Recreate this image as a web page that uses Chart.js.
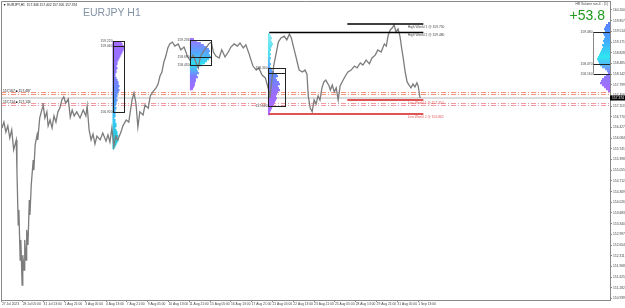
<!DOCTYPE html>
<html><head><meta charset="utf-8">
<script src="https://cdn.jsdelivr.net/npm/chart.js@4/dist/chart.umd.min.js"></script>
<style>html,body{margin:0;padding:0;background:#fff;overflow:hidden}#wrap{width:625px;height:308px}</style>
</head><body><div id="wrap"><canvas id="c" width="625" height="308"></canvas></div>
<script>
// ---- data (hours since first bar, H1 closes) ----
const hours = [0,3,6,9,12,15,18,22,23,25,26,28,29,31,32,34,35,37,38,40,42,43,45,48,49,51,54,55,58,62,63,66,69,71,74,77,80,83,86,89,92,95,98,102,105,108,111,115,120,125,129,131,134,137,140,143,146,151,155,160,163,166,169,172,175,178,183,186,191,195,200,203,206,209,212,217,220,225,228,232,237,240,243,246,249,252,255,258,262,266,271,275,280,285,289,294,298,302,305,309,314,318,322,325,329,334,338,343,348,352,357,362,366,371,375,380,383,386,391,395,400,405,408,411,412,415,418,422,425,429,434,438,442,445,448,451,454,457,462,466,469,471,474,477,480,483,486,489,492,495,498,503,505,508,511,514,517,520,523,528,532,537,542,546,551,555,560,565,569,574,578,583,588,591,594,597,600,603,606,609,612,615,617,620,623,626,629,632,635,638,640,643];
const closes = [156.41,156.60,156.28,156.48,156.09,156.35,155.71,156.03,155.06,153.30,153.78,152.17,152.82,151.37,152.33,151.85,152.82,152.17,153.14,152.66,154.10,153.62,154.58,155.38,155.06,155.87,156.19,156.03,156.73,157.05,157.21,156.73,156.93,156.48,156.67,156.41,156.80,156.60,156.93,157.05,157.31,157.41,157.21,157.34,156.76,156.99,156.80,156.93,156.73,156.99,156.80,157.12,156.35,156.03,156.22,155.90,156.15,156.03,156.25,155.99,156.19,155.96,156.41,155.83,156.15,156.03,156.28,156.48,156.67,156.60,157.31,157.53,157.21,156.44,156.93,156.83,157.15,157.05,157.44,157.57,157.70,157.82,158.08,158.21,158.53,158.72,158.98,159.11,159.17,159.04,159.11,158.92,159.01,158.72,158.59,158.75,158.53,158.34,158.69,158.85,158.98,159.11,159.17,158.85,158.72,158.66,158.92,158.69,158.85,159.01,159.11,159.04,159.14,158.98,159.08,158.79,158.59,158.40,158.27,158.34,158.11,158.02,157.79,157.57,157.37,157.95,158.43,158.85,159.17,159.30,159.36,159.24,159.43,159.30,159.04,158.79,158.53,158.27,158.21,158.27,158.14,157.44,157.05,156.93,157.31,157.18,157.44,157.31,157.70,157.89,157.95,157.76,157.63,157.79,157.57,157.70,157.31,157.76,157.89,158.08,158.21,158.27,158.40,158.34,158.50,158.43,158.59,158.47,158.66,158.75,158.92,158.85,159.11,159.04,159.40,159.56,159.62,159.72,159.49,159.59,159.36,158.92,158.66,158.21,157.89,157.79,157.70,157.82,157.73,157.86,157.76,157.374];

const xTickHours = [0,32,64,96,128,160,192,224,256,288,320,352,384,416,448,480,512,544,576,608,640];
const xTickLabels = ["27 Jul 2023","28 Jul 05:00","31 Jul 13:00","1 Aug 21:00","3 Aug 05:00","4 Aug 13:00","7 Aug 21:00","9 Aug 05:00","10 Aug 13:00","11 Aug 21:00","15 Aug 05:00","16 Aug 13:00","17 Aug 21:00","21 Aug 05:00","22 Aug 13:00","23 Aug 21:00","25 Aug 05:00","28 Aug 13:00","29 Aug 21:00","31 Aug 05:00","1 Sep 13:00"];
const yTickValues = [160.200,159.857,159.514,159.171,158.828,158.485,158.142,157.799,157.456,157.113,156.770,156.427,156.084,155.741,155.398,155.055,154.712,154.369,154.026,153.683,153.340,152.997,152.654,152.311,151.968,151.625,151.282,150.939];

const currentPrice = 157.374;
const headerText = "EURJPY,H1  157.346 157.402 157.305 157.374";

// weekly high / low levels
const weeklyNames = ["High Weekl 1","High Weekl 2","Low Weekl 1","Low Weekl 2"];
const weeklyPrices = [159.750,159.480,157.310,156.862];
const weeklyStart = [531,411,531,411];
const weeklyEnd = [648,648,648,648];

// dash-dot levels
const dashLevels = [157.567,157.487,157.214,157.134];
const dashLabelTexts = ["157.567 ■ 157.487","157.214 ■ 157.134"];

// volume profiles
const profileTops = [159.204,159.300,159.460,159.814];
const profileStep = 0.0642;
const profileStartHour = [170,289,409,935];
const profileA = [9,10,11,12,11,10,9,8,7,6,5,5,4,5,4,4,3,3,4,5,6,6,7,6,7,6,5,5,4,5,4,4,3,4,3,3,3,3,2,3,3,4,4,3,4,5,5,6,5,6,5,4,3,2];
const profileB = [4,7,11,14,17,19,20,19,20,21,19,17,15,12,9,7,8,9,7,8,6,6,5,5,4,3];
const profileC = [2,3,4,3,4,5,4,3,3,2,3,2,3,2,2,3,2,3,4,6,9,10,8,9,11,12,10,11,12,10,9,8,9,8,7,6,5,4,3,2,2];
const profileD = [2,4,5,6,5,7,6,5,6,7,6,8,7,8,9,10,11,12,13,12,11,10,8,5,3,2,4,6,8,9,10,8,6,4,2];

// profile boxes: [startHour, endHour], [topPrice, bottomPrice]
const boxHours = [[170,188],[289,322],[409,435]];
const boxPrices = [[159.204,156.925],[159.236,158.430],[158.340,157.120]];
const boxInnerLines = [[159.044],[158.690],[158.180]];
const boxLabels = [["159.220","159.060","156.920"],["159.236","158.690","158.430"],["158.340","157.120"]];
const boxLabelPrices = [[159.204,159.044,156.925],[159.236,158.690,158.430],[158.340,157.120]];
const rightProfileLevels = [159.480,158.470,158.160];
const rightProfileLabels = ["159.480","158.470","158.160"];

const pnlText = "+53.8";

// ---- styles ----
const profileColors = [
  ['#a36bff','#8a74ff','#5d8fff','#35c8f2','#1fc9d2'],
  ['#9a78ff','#5aa2ff','#2ee0f0','#7f7aff','#a46cff'],
  ['#86eaf6','#52dff0','#5d8cff','#9a6cff','#a86cff'],
  ['#5a7dff','#45a8ff','#2ee6f0','#8d7bff','#a46cff']
];
const FONT = 'Liberation Sans';
const TINY = 3.3;
function lerpColor(stops, t){
  const n = stops.length-1; const i = Math.min(n-1, Math.floor(t*n)); const f = t*n - i;
  const a = stops[i], b = stops[i+1];
  const pa=[1,3,5].map(k=>parseInt(a.substr(k,2),16)), pb=[1,3,5].map(k=>parseInt(b.substr(k,2),16));
  return 'rgb('+pa.map((v,k)=>Math.round(v+(pb[k]-v)*f)).join(',')+')';
}

const overlay = {
  id:'overlay',
  beforeDatasetsDraw(chart){
    const ctx=chart.ctx, xs=chart.scales.x, ys=chart.scales.y, ca=chart.chartArea;
    ctx.save();
    ctx.beginPath(); ctx.rect(ca.left,ca.top,ca.right-ca.left,ca.bottom-ca.top); ctx.clip();
    const yc = ys.getPixelForValue(currentPrice);
    ctx.strokeStyle='#dcdcdc'; ctx.lineWidth=2;
    ctx.beginPath(); ctx.moveTo(ca.left,yc); ctx.lineTo(ca.right,yc); ctx.stroke();
    ctx.lineWidth=1; ctx.setLineDash([5,2,1,2]);
    dashLevels.forEach((p,i)=>{
      ctx.strokeStyle = i<2 ? '#f2967f' : '#f39aa0';
      const yy = Math.round(ys.getPixelForValue(p))+0.5;
      ctx.beginPath(); ctx.moveTo(ca.left,yy); ctx.lineTo(ca.right,yy); ctx.stroke();
    });
    ctx.setLineDash([]);
    const profiles=[profileA,profileB,profileC,profileD];
    profiles.forEach((vols,pi)=>{
      const dir = pi===3 ? -1 : 1;
      const x0 = xs.getPixelForValue(profileStartHour[pi]);
      vols.forEach((v,j)=>{
        const pTop = profileTops[pi]-j*profileStep;
        const y1 = ys.getPixelForValue(pTop), y2 = ys.getPixelForValue(pTop-profileStep);
        const x1 = xs.getPixelForValue(profileStartHour[pi]+dir*v*1.54);
        ctx.fillStyle = lerpColor(profileColors[pi], j/(vols.length-1));
        ctx.fillRect(Math.min(x0,x1), y1, Math.abs(x1-x0), y2-y1+0.3);
      });
    });
    ctx.restore();
  },
  afterDatasetsDraw(chart){
    const ctx=chart.ctx, xs=chart.scales.x, ys=chart.scales.y;
    ctx.save();
    ctx.strokeStyle='#222'; ctx.lineWidth=1;
    boxHours.forEach((bh,i)=>{
      const xa=Math.round(xs.getPixelForValue(bh[0]))+0.5, xb=Math.round(xs.getPixelForValue(bh[1]))+0.5;
      const ya=Math.round(ys.getPixelForValue(boxPrices[i][0]))+0.5, yb=Math.round(ys.getPixelForValue(boxPrices[i][1]))+0.5;
      ctx.strokeRect(xa,ya,xb-xa,yb-ya);
      boxInnerLines[i].forEach(p=>{const y=Math.round(ys.getPixelForValue(p))+0.5;ctx.beginPath();ctx.moveTo(xa,y);ctx.lineTo(xb,y);ctx.stroke();});
      ctx.fillStyle='#444'; ctx.font=TINY+'px '+FONT; ctx.textAlign='right'; ctx.textBaseline='middle';
      boxLabels[i].forEach((t,k)=>ctx.fillText(t, xa-1, ys.getPixelForValue(boxLabelPrices[i][k])));
    });
    const xr0 = Math.round(xs.getPixelForValue(909))+0.5, xr1 = xs.getPixelForValue(935);
    ctx.strokeStyle='#888';
    ctx.beginPath(); ctx.moveTo(xr0, ys.getPixelForValue(rightProfileLevels[0])); ctx.lineTo(xr0, ys.getPixelForValue(rightProfileLevels[2])); ctx.stroke();
    ctx.strokeStyle='#222';
    rightProfileLevels.forEach((p,k)=>{
      const y=Math.round(ys.getPixelForValue(p))+0.5;
      ctx.beginPath(); ctx.moveTo(xr0,y); ctx.lineTo(xr1,y); ctx.stroke();
      ctx.fillStyle='#444'; ctx.font=TINY+'px '+FONT; ctx.textAlign='right'; ctx.textBaseline='middle';
      ctx.fillText(rightProfileLabels[k], xr0-1, y);
    });
    weeklyPrices.forEach((p,i)=>{
      const y = ys.getPixelForValue(p);
      const isHigh = i<2;
      ctx.strokeStyle = isHigh ? '#000' : '#d41a1a'; ctx.lineWidth=1.5;
      ctx.beginPath(); ctx.moveTo(xs.getPixelForValue(weeklyStart[i]),y); ctx.lineTo(xs.getPixelForValue(weeklyEnd[i]),y); ctx.stroke();
      ctx.fillStyle = isHigh ? '#444' : '#e05a5a'; ctx.font=TINY+'px '+FONT; ctx.textAlign='left'; ctx.textBaseline='middle';
      ctx.fillText(weeklyNames[i]+' @ '+p.toFixed(3), xs.getPixelForValue(624), y+3);
    });
    ctx.fillStyle='#222'; ctx.font=TINY+'px '+FONT; ctx.textAlign='left'; ctx.textBaseline='middle';
    ctx.fillText(dashLabelTexts[0], 3, ys.getPixelForValue(dashLevels[0])-1);
    ctx.fillText(dashLabelTexts[1], 3, ys.getPixelForValue(dashLevels[2])-1);
    ctx.restore();
  },
  afterDraw(chart){
    const ctx=chart.ctx, ys=chart.scales.y, ca=chart.chartArea;
    ctx.save();
    ctx.strokeStyle='#8a8a8a'; ctx.lineWidth=1;
    ctx.beginPath(); ctx.moveTo(ca.left+0.5, ca.bottom); ctx.lineTo(ca.left+0.5, ca.top+0.5); ctx.lineTo(ca.right, ca.top+0.5); ctx.stroke();
    ctx.fillStyle='#222'; ctx.font=TINY+'px '+FONT; ctx.textAlign='left'; ctx.textBaseline='middle';
    ctx.fillText('▼ '+headerText, 3, 5);
    ctx.fillStyle='#8392a5'; ctx.font='10.5px '+FONT; ctx.textBaseline='alphabetic';
    ctx.fillText('EURJPY H1', 83, 16);
    ctx.fillStyle='#1f9a1f'; ctx.font='14px '+FONT; ctx.textAlign='right';
    ctx.fillText(pnlText, 605, 20);
    ctx.fillStyle='#444'; ctx.font=TINY+'px '+FONT; ctx.textAlign='right'; ctx.textBaseline='middle';
    ctx.fillText('HR Volume ran.4 ↓ (1)', 608, 4);
    const yc = ys.getPixelForValue(currentPrice);
    ctx.fillStyle='#000'; ctx.fillRect(ca.right, yc-2.5, 625-ca.right, 5);
    ctx.fillStyle='#fff'; ctx.font=TINY+'px '+FONT; ctx.textAlign='left';
    ctx.fillText(currentPrice.toFixed(3), ca.right+2, yc);
    ctx.restore();
  }
};

new Chart(document.getElementById('c'), {
  type:'line',
  data:{datasets:[{data:hours.map((h,i)=>({x:h,y:closes[i]})), borderColor:'#7c7c7c', borderWidth:1.3, pointRadius:0, tension:0, fill:false}]},
  options:{
    responsive:false, animation:false, devicePixelRatio:1,
    layout:{padding:{left:1,top:1,right:0,bottom:0}},
    plugins:{legend:{display:false}, tooltip:{enabled:false}},
    scales:{
      x:{type:'linear', min:-1.5, max:935,
        afterBuildTicks:s=>{s.ticks=xTickHours.map(v=>({value:v}));},
        afterFit:s=>{s.height=8; s.paddingLeft=0; s.paddingRight=0;},
        grid:{drawOnChartArea:false, tickLength:2, color:'#8a8a8a'},
        border:{color:'#8a8a8a'},
        ticks:{autoSkip:false, maxRotation:0, minRotation:0, align:'start', padding:0, color:'#444',
          font:{size:TINY, family:FONT}, callback:(v,i)=>xTickLabels[i]}},
      y:{type:'linear', position:'right', min:150.89, max:160.488,
        afterBuildTicks:s=>{s.ticks=yTickValues.map(v=>({value:v}));},
        afterFit:s=>{s.width=15; s.paddingTop=0; s.paddingBottom=0;},
        grid:{drawOnChartArea:false, tickLength:2, color:'#8a8a8a'},
        border:{color:'#8a8a8a'},
        ticks:{autoSkip:false, padding:1, color:'#444', font:{size:TINY, family:FONT}, callback:v=>v.toFixed(3)}}
    }
  },
  plugins:[overlay]
});
</script></body></html>
